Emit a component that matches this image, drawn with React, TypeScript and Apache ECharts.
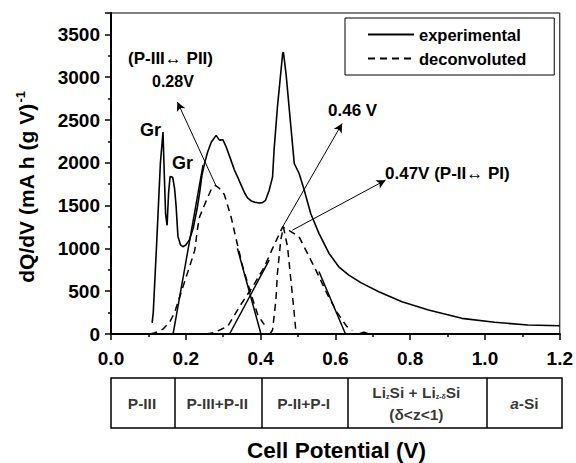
import React, { useEffect, useRef } from "react";
import * as echarts from "echarts";

// ---------- data ----------
const X_MIN = 0;
const X_MAX = 1.2;
const X_INTERVAL = 0.2;
const Y_MIN = 0;
const Y_MAX = 3750;
const Y_INTERVAL = 500;

const EXPERIMENTAL: [number, number][] = [
  [0.110, 130], [0.113, 250], [0.122, 1050], [0.132, 1990], [0.139, 2360],
  [0.143, 1800], [0.146, 1400], [0.150, 1270], [0.154, 1650], [0.158, 1840],
  [0.165, 1830], [0.170, 1700], [0.174, 1500], [0.179, 1140], [0.186, 1040],
  [0.192, 1020], [0.200, 1040], [0.210, 1100], [0.220, 1240], [0.230, 1460],
  [0.237, 1650], [0.243, 1850], [0.250, 1990], [0.258, 2120], [0.268, 2240],
  [0.281, 2320], [0.290, 2265], [0.299, 2270], [0.308, 2185], [0.320, 2040],
  [0.330, 1915], [0.340, 1820], [0.348, 1740], [0.357, 1650], [0.365, 1590],
  [0.375, 1555], [0.385, 1540], [0.396, 1530], [0.405, 1535], [0.413, 1560],
  [0.423, 1680], [0.432, 1836], [0.436, 2147], [0.445, 2652], [0.459, 3275],
  [0.461, 3294], [0.468, 3042], [0.481, 2419], [0.490, 1992], [0.503, 1875],
  [0.516, 1690], [0.534, 1408], [0.556, 1175], [0.583, 941], [0.609, 785],
  [0.636, 688], [0.668, 600], [0.716, 494], [0.778, 377], [0.849, 280],
  [0.938, 183], [1.026, 137], [1.115, 105], [1.2, 97],
];

const PEAK_028: [number, number][] = [
  [0.105, 0], [0.115, 12], [0.126, 28], [0.140, 60], [0.157, 140], [0.170, 250],
  [0.190, 520], [0.210, 785], [0.224, 980], [0.232, 1250], [0.237, 1370],
  [0.255, 1560], [0.268, 1690], [0.279, 1735], [0.290, 1700], [0.303, 1630],
  [0.321, 1370], [0.334, 1120], [0.352, 790], [0.374, 470], [0.392, 230],
  [0.405, 140], [0.410, 110],
];

const PEAK_046: [number, number][] = [
  [0.255, 0], [0.275, 15], [0.295, 55], [0.312, 90], [0.345, 330], [0.380, 560],
  [0.410, 785], [0.432, 1000], [0.459, 1252], [0.480, 1200], [0.503, 1135],
  [0.530, 902], [0.552, 708], [0.580, 450], [0.605, 250], [0.630, 90], [0.645, 40],
];

const PEAK_047: [number, number][] = [
  [0.425, 0], [0.432, 47], [0.441, 400], [0.445, 710], [0.454, 1100], [0.461, 1250],
  [0.472, 1020], [0.481, 630], [0.490, 240], [0.494, 47], [0.500, 0],
];

const SMALL_BUMP: [number, number][] = [[0.666, 0], [0.676, 14], [0.686, 0]];

const CONSTRUCTION_LINES: [number, number][][] = [
  [[0.166, 0], [0.246, 1972]],
  [[0.338, 1000], [0.401, 0]],
  [[0.317, 0], [0.423, 863]],
  [[0.556, 730], [0.627, 0]],
];

// arrows: [fromX, fromY, toX, toY] in data units
const ARROWS: [number, number, number, number][] = [
  [0.281, 1730, 0.1775, 2711],
  [0.459, 1252, 0.618, 2459],
  [0.485, 1213, 0.734, 1797],
];

const TABLE_BOUNDS = [0.165, 0.40, 0.625, 1.0];
const TABLE_LABELS = [
  "{b|P-III}",
  "{b|P-III+P-II}",
  "{b|P-II+P-I}",
  "{b|Li}{s|z}{b|Si + Li}{s|z-δ}{b|Si}\n{b|(δ<z<1)}",
  "{i|a}{b|-Si}",
];

const FONT = "'Liberation Sans', Arial, Helvetica, sans-serif";

export default function App() {
  const ref = useRef<HTMLDivElement>(null);

  useEffect(() => {
    document.body.style.margin = "0";
    if (!ref.current) return;
    const chart = echarts.init(ref.current, undefined, { renderer: "svg" });

    const edges = [X_MIN, ...TABLE_BOUNDS, X_MAX];
    const centers = TABLE_LABELS.map((_, i) => (edges[i] + edges[i + 1]) / 2);

    const dashed = { color: "#000", width: 1.5, type: [7, 5] as number[] };

    const option: any = {
      animation: false,
      backgroundColor: "#fff",
      textStyle: { fontFamily: FONT },
      grid: [
        { left: 111, top: 13, width: 451, height: 321, show: true, borderColor: "#000", borderWidth: 1 },
        { left: 111, top: 378, width: 451, height: 51, show: true, borderColor: "#000", borderWidth: 1.5 },
      ],
      legend: {
        left: 345,
        top: 18,
        orient: "vertical",
        data: ["experimental", "deconvoluted"],
        borderColor: "#000",
        borderWidth: 1,
        padding: [8, 28, 8, 22],
        itemWidth: 46,
        itemHeight: 18,
        itemGap: 7,
        selectedMode: false,
        itemStyle: { color: "rgba(0,0,0,0)", borderColor: "rgba(0,0,0,0)", borderWidth: 0, opacity: 0 },
        textStyle: { fontFamily: FONT, fontWeight: "bold", fontSize: 16.5, color: "#000" },
      },
      xAxis: [
        {
          type: "value",
          gridIndex: 0,
          min: X_MIN,
          max: X_MAX,
          interval: X_INTERVAL,
          axisLine: { show: true, lineStyle: { color: "#000", width: 2 } },
          axisTick: { show: true, length: 6, lineStyle: { color: "#000", width: 1.5 } },
          minorTick: { show: true, splitNumber: 2, length: 3, lineStyle: { color: "#000", width: 1.5 } },
          splitLine: { show: false },
          axisLabel: {
            formatter: (v: number) => v.toFixed(1),
            fontSize: 19, fontWeight: "bold", color: "#000", fontFamily: FONT, margin: 15,
          },
        },
        {
          type: "value",
          gridIndex: 1,
          min: X_MIN,
          max: X_MAX,
          axisLine: { show: false },
          axisTick: { show: false },
          axisLabel: { show: false },
          splitLine: { show: false },
          name: "Cell Potential (V)",
          nameLocation: "middle",
          nameGap: 11,
          nameTextStyle: { fontSize: 22.5, fontWeight: "bold", color: "#000", fontFamily: FONT, verticalAlign: "top" },
        },
      ],
      yAxis: [
        {
          type: "value",
          gridIndex: 0,
          min: Y_MIN,
          max: Y_MAX,
          interval: Y_INTERVAL,
          axisLine: { show: true, lineStyle: { color: "#000", width: 2 } },
          axisTick: { show: true, length: 6, lineStyle: { color: "#000", width: 1.5 } },
          minorTick: { show: true, splitNumber: 2, length: 3, lineStyle: { color: "#000", width: 1.5 } },
          splitLine: { show: false },
          axisLabel: {
            formatter: (v: number) => (v % Y_INTERVAL === 0 ? String(v) : ""),
            fontSize: 19, fontWeight: "bold", color: "#000", fontFamily: FONT, margin: 11,
          },
        },
        {
          type: "value",
          gridIndex: 1,
          min: 0,
          max: 1,
          show: false,
        },
      ],
      series: [
        {
          name: "experimental",
          type: "line",
          data: EXPERIMENTAL,
          symbol: "none",
          lineStyle: { color: "#000", width: 1.6 },
          itemStyle: { color: "#000" },
          z: 5,
          markLine: {
            silent: true,
            symbol: ["none", "arrow"],
            symbolSize: [7, 9],
            label: { show: false },
            lineStyle: { color: "#000", width: 1, type: "solid" },
            emphasis: { disabled: true },
            data: ARROWS.map(([x1, y1, x2, y2]) => [{ coord: [x1, y1] }, { coord: [x2, y2] }]),
          },
        },
        { name: "deconvoluted", type: "line", data: PEAK_028, symbol: "none", lineStyle: dashed, itemStyle: { color: "#000" } },
        { name: "deconvoluted", type: "line", data: PEAK_046, symbol: "none", lineStyle: dashed, itemStyle: { color: "#000" } },
        { name: "deconvoluted", type: "line", data: PEAK_047, symbol: "none", lineStyle: dashed, itemStyle: { color: "#000" } },
        { name: "bump", type: "line", data: SMALL_BUMP, symbol: "none", lineStyle: { color: "#000", width: 2.5 } },
        ...CONSTRUCTION_LINES.map((seg, i) => ({
          name: "construction" + i,
          type: "line",
          data: seg,
          symbol: "none",
          lineStyle: { color: "#000", width: 1.5 },
        })),
        {
          name: "table-dividers",
          type: "line",
          xAxisIndex: 1,
          yAxisIndex: 1,
          data: [],
          markLine: {
            silent: true,
            symbol: ["none", "none"],
            label: { show: false },
            lineStyle: { color: "#000", width: 1.5, type: "solid" },
            emphasis: { disabled: true },
            data: TABLE_BOUNDS.map((b) => ({ xAxis: b })),
          },
        },
        {
          name: "table-labels",
          type: "scatter",
          xAxisIndex: 1,
          yAxisIndex: 1,
          symbol: "circle",
          symbolSize: 1,
          itemStyle: { color: "rgba(0,0,0,0)" },
          silent: true,
          data: TABLE_LABELS.map((t, i) => ({ name: t, value: [centers[i], 0.5] })),
          label: {
            show: true,
            position: "inside",
            formatter: (p: any) => p.name,
            color: "#000",
            rich: {
              b: { fontFamily: FONT, fontWeight: "bold", fontSize: 15.5, color: "#000", lineHeight: 22 },
              s: { fontFamily: FONT, fontWeight: "bold", fontSize: 7, color: "#000", lineHeight: 22, padding: [9, 0, 0, 0] },
              i: { fontFamily: FONT, fontWeight: "bold", fontStyle: "italic", fontSize: 15.5, color: "#000", lineHeight: 22 },
            },
          },
        },
      ],
      graphic: [
        {
          type: "text",
          x: 26,
          y: 187,
          rotation: Math.PI / 2,
          style: {
            text: "{t|dQ/dV (mA h (g V)}{u|-1}",
            align: "center",
            verticalAlign: "middle",
            rich: {
              t: { fontFamily: FONT, fontWeight: "bold", fontSize: 21, fill: "#000", lineHeight: 26 },
              u: { fontFamily: FONT, fontWeight: "bold", fontSize: 13, fill: "#000", lineHeight: 26, padding: [0, 0, 12, 1] },
            },
          },
        },
        { type: "text", x: 128, y: 58, style: { text: "(P-III\u2194 PII)", font: `bold 17px ${FONT}`, fill: "#000", verticalAlign: "middle" } },
        { type: "text", x: 152, y: 81, style: { text: "0.28V", font: `bold 16px ${FONT}`, fill: "#000", verticalAlign: "middle" } },
        { type: "text", x: 140, y: 130, style: { text: "Gr", font: `bold 18px ${FONT}`, fill: "#000", verticalAlign: "middle" } },
        { type: "text", x: 172, y: 163, style: { text: "Gr", font: `bold 18px ${FONT}`, fill: "#000", verticalAlign: "middle" } },
        { type: "text", x: 328, y: 110, style: { text: "0.46 V", font: `bold 17px ${FONT}`, fill: "#000", verticalAlign: "middle" } },
        { type: "text", x: 385, y: 173, style: { text: "0.47V (P-II\u2194 PI)", font: `bold 17px ${FONT}`, fill: "#000", verticalAlign: "middle" } },
      ],
    };

    chart.setOption(option);
    return () => chart.dispose();
  }, []);

  return <div ref={ref} style={{ width: 576, height: 463 }} />;
}
